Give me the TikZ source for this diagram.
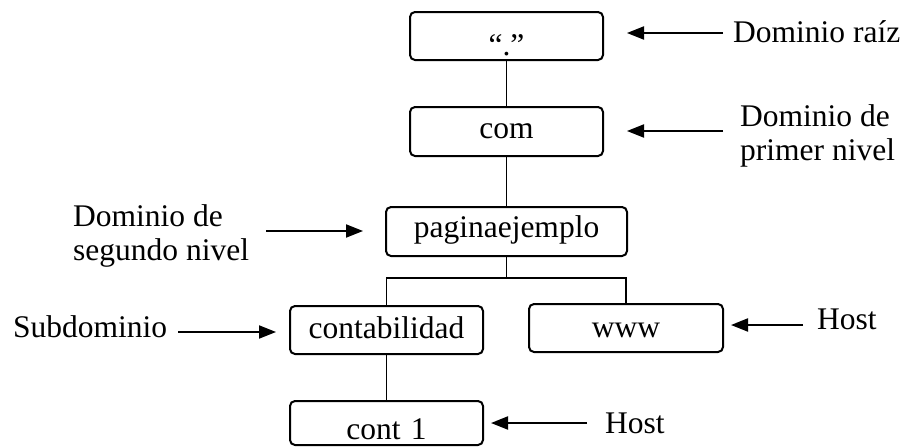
\documentclass[tikz,border=0pt]{standalone}
\usepackage{fontspec}
\setmainfont{Liberation Serif}
\usetikzlibrary{arrows.meta}
\begin{document}
\begin{tikzpicture}[x=1pt,y=-1pt,
  every node/.style={font=\fontsize{31.5}{34}\selectfont},
  dnsbox/.style={draw, line width=2pt, rounded corners=5pt, inner sep=0pt,
                 align=center, anchor=base},
  conn/.style={line width=1.9pt},
  ptr/.style={line width=1.9pt, -{Triangle[length=17pt,width=13pt]}},
  lbl/.style={inner sep=0pt, anchor=base west, align=left}]
\useasboundingbox (0,0) rectangle (909,447);

% tree of domain names
\node[dnsbox, text width=193pt, text height=43pt, text depth=5pt]  (root)  at (506.5,55)  {“.”};
\node[dnsbox, text width=193pt, text height=31pt, text depth=18pt] (com)   at (506.5,138) {com};
\node[dnsbox, text width=241pt, text height=30pt, text depth=19pt] (pag)   at (506.5,237) {paginaejemplo};
\node[dnsbox, text width=193pt, text height=32pt, text depth=16pt] (cont)  at (386.5,338) {contabilidad};
\node[dnsbox, text width=194pt, text height=33pt, text depth=15pt] (www)   at (626,337)   {www};
\node[dnsbox, text width=193pt, text height=38pt, text depth=6pt]  (cont1) at (386.5,439) {cont 1\hspace*{13pt}};

\draw[conn] (root.south) -- (com.north);
\draw[conn] (com.south) -- (pag.north);
\draw[conn] (pag.south) -- ++(0,21) coordinate (split);
\draw[conn] (cont.north) |- (split) -| (www.north);
\draw[conn] (cont.south) -- (cont1.north);

% level labels (two-line labels are anchored on their last line)
\node[lbl] (lraiz)  at (733,42)  {Dominio raíz};
\node[lbl] (lprim)  at (740,160) {Dominio de\\primer nivel};
\node[lbl] (lseg)   at (73,260)  {Dominio de\\segundo nivel};
\node[lbl] (lsub)   at (13,337)  {Subdominio};
\node[lbl] (lhost1) at (817,329) {Host};
\node[lbl] (lhost2) at (605,433) {Host};

% pointer arrows
\coordinate (a1s) at (723,33);  \coordinate (a1e) at (627,33);
\coordinate (a2s) at (723,131); \coordinate (a2e) at (627,131);
\coordinate (a3s) at (266,231); \coordinate (a3e) at (363,231);
\coordinate (a4s) at (178,332); \coordinate (a4e) at (276,332);
\coordinate (a5s) at (803,325); \coordinate (a5e) at (731,325);
\coordinate (a6s) at (587,423); \coordinate (a6e) at (491,423);
\draw[ptr] (a1s) -- (a1e);
\draw[ptr] (a2s) -- (a2e);
\draw[ptr] (a3s) -- (a3e);
\draw[ptr] (a4s) -- (a4e);
\draw[ptr] (a5s) -- (a5e);
\draw[ptr] (a6s) -- (a6e);
\end{tikzpicture}
\end{document}
